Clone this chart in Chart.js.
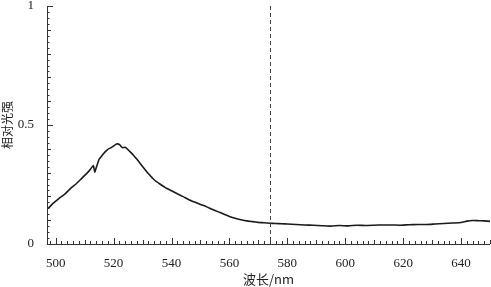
<!DOCTYPE html>
<html>
<head>
<meta charset="utf-8">
<script src="https://cdn.jsdelivr.net/npm/chart.js@4"></script>
<style>
  html, body { margin: 0; padding: 0; background: #fff; }
  #wrap { width: 491px; height: 287px; }
</style>
</head>
<body>
<div id="wrap"><canvas id="c"></canvas></div>
<script>
// wavelength (nm) and relative intensity
const wavelengths = [497, 499, 501, 503, 505, 507, 509, 511, 512, 513, 513.5, 514, 515, 516, 517, 518, 519, 520, 521, 522, 523, 524, 525, 526, 527, 528, 530, 532, 534, 536, 538, 540, 542, 544, 546, 548, 550, 552, 554, 556, 558, 560, 562, 564, 566, 568, 570, 572, 574, 576, 578, 580, 583, 586, 589, 592, 595, 598, 601, 604, 607, 610, 613, 616, 619, 622, 625, 628, 631, 634, 637, 640, 642, 644, 646, 648, 650];
const intensity = [0.145, 0.170, 0.190, 0.208, 0.232, 0.252, 0.276, 0.300, 0.314, 0.330, 0.303, 0.320, 0.356, 0.372, 0.386, 0.398, 0.404, 0.412, 0.420, 0.418, 0.405, 0.406, 0.396, 0.384, 0.371, 0.357, 0.326, 0.296, 0.270, 0.252, 0.236, 0.224, 0.211, 0.199, 0.186, 0.176, 0.166, 0.157, 0.146, 0.136, 0.126, 0.116, 0.108, 0.102, 0.097, 0.094, 0.091, 0.089, 0.087, 0.086, 0.085, 0.084, 0.082, 0.080, 0.079, 0.077, 0.075, 0.078, 0.076, 0.079, 0.078, 0.079, 0.080, 0.080, 0.079, 0.081, 0.082, 0.082, 0.084, 0.086, 0.088, 0.090, 0.096, 0.099, 0.098, 0.097, 0.095];
const markerWavelength = 574;
const xTickValues = [500, 520, 540, 560, 580, 600, 620, 640];
const yTickValues = [0, 0.5, 1];

const serif = "'Liberation Serif', 'DejaVu Serif', serif";
const cjk = "'Noto Sans CJK SC', sans-serif";

// ticks pointing into the plot, plus the dashed marker line
const innerTicks = {
  id: "innerTicks",
  afterDatasetsDraw(chart) {
    const { ctx, chartArea, scales } = chart;
    const x = scales.x, y = scales.y;
    ctx.save();
    ctx.strokeStyle = "#333";
    ctx.lineWidth = 1;
    ctx.beginPath();
    // axis lines
    ctx.moveTo(chartArea.left + 0.5, chartArea.top);
    ctx.lineTo(chartArea.left + 0.5, chartArea.bottom + 0.5);
    ctx.lineTo(chartArea.right, chartArea.bottom + 0.5);
    // x ticks every 2 nm
    for (let v = 498; v <= 650; v += 2) {
      const px = Math.round(x.getPixelForValue(v)) + 0.5;
      const len = v % 20 === 0 ? 6 : (v % 10 === 0 ? 4 : 3);
      ctx.moveTo(px, chartArea.bottom);
      ctx.lineTo(px, chartArea.bottom - len);
    }
    // y ticks every 0.025
    for (let i = 0; i <= 40; i++) {
      const v = i / 40;
      const py = Math.round(y.getPixelForValue(v)) + 0.5;
      const len = i % 20 === 0 ? 6 : (i % 4 === 0 ? 4 : 2.5);
      ctx.moveTo(chartArea.left, py);
      ctx.lineTo(chartArea.left + len, py);
    }
    ctx.stroke();

    // dashed marker
    const mx = Math.round(x.getPixelForValue(markerWavelength)) + 0.5;
    ctx.strokeStyle = "#444";
    ctx.setLineDash([4, 3]);
    ctx.beginPath();
    ctx.moveTo(mx, chartArea.top);
    ctx.lineTo(mx, chartArea.bottom);
    ctx.stroke();
    ctx.restore();
  }
};

new Chart(document.getElementById("c"), {
  type: "line",
  data: {
    datasets: [{
      data: wavelengths.map((w, i) => ({ x: w, y: intensity[i] })),
      borderColor: "#1a1a1a",
      borderWidth: 1.6,
      pointRadius: 0,
      tension: 0.15,
      fill: false
    }]
  },
  options: {
    responsive: true,
    maintainAspectRatio: false,
    animation: false,
    layout: { padding: { top: 6, right: 1, left: 0, bottom: 0 } },
    plugins: { legend: { display: false }, tooltip: { enabled: false } },
    scales: {
      x: {
        type: "linear",
        min: 497,
        max: 650,
        border: { display: false },
        grid: { display: false },
        afterBuildTicks: (scale) => { scale.ticks = xTickValues.map(v => ({ value: v })); },
        afterFit: (scale) => { scale.height = 43; },
        ticks: {
          color: "#222",
          padding: 4,
          maxRotation: 0,
          font: { family: serif, size: 13 }
        },
        title: {
          display: true,
          text: "波长/nm",
          color: "#222",
          padding: { top: 0, bottom: 0 },
          font: { family: cjk, size: 13 }
        }
      },
      y: {
        min: 0,
        max: 1,
        border: { display: false },
        grid: { display: false },
        afterBuildTicks: (scale) => { scale.ticks = yTickValues.map(v => ({ value: v })); },
        afterFit: (scale) => { scale.width = 47; scale.paddingTop = 0; scale.paddingBottom = 0; },
        ticks: {
          color: "#222",
          padding: 5,
          callback: (v) => String(v),
          font: { family: serif, size: 13 }
        },
        title: {
          display: true,
          text: "相对光强",
          color: "#222",
          padding: { top: 0, bottom: 0 },
          font: { family: cjk, size: 12 }
        }
      }
    }
  },
  plugins: [innerTicks]
});
</script>
</body>
</html>
